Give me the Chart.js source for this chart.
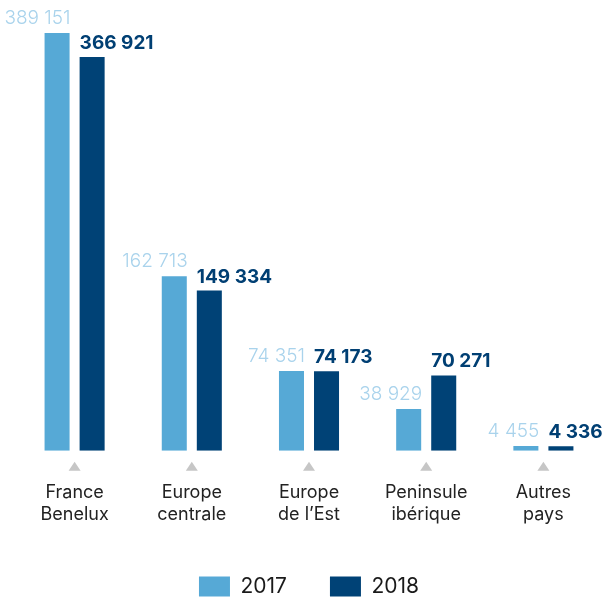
<!DOCTYPE html>
<html>
<head>
<meta charset="utf-8">
<script src="https://cdn.jsdelivr.net/npm/chart.js@4/dist/chart.umd.min.js"></script>
<style>
  html, body { margin: 0; padding: 0; background: #fff; }
  #wrap { width: 604px; height: 599px; }
</style>
</head>
<body>
<div id="wrap"><canvas id="chart"></canvas></div>
<script>
const categories = [["France", "Benelux"], ["Europe", "centrale"], ["Europe", "de l\u2019Est"], ["Peninsule", "ibérique"], ["Autres", "pays"]];
const values2017 = [389151, 162713, 74351, 38929, 4455];
const values2018 = [366921, 149334, 74173, 70271, 4336];
const seriesLabels = ["2017", "2018"];

const FONT = "Inter, 'Noto Sans', sans-serif";
const LEGEND_HEIGHT = 66;

function fmt(n) {
  return String(n).replace(/\B(?=(\d{3})+(?!\d))/g, " ");
}

// fixed legend height so items sit at the very bottom
const legendHeight = {
  id: "legendHeight",
  beforeInit(chart) {
    const origFit = chart.legend.fit;
    chart.legend.fit = function () {
      origFit.call(this);
      this.height = LEGEND_HEIGHT;
    };
  }
};

// value labels above bars + small triangles above category names
const decorations = {
  id: "decorations",
  afterDatasetsDraw(chart) {
    const ctx = chart.ctx;
    ctx.save();
    chart.data.datasets.forEach((ds, di) => {
      const meta = chart.getDatasetMeta(di);
      meta.data.forEach((bar, i) => {
        const left = bar.x - bar.width / 2;
        const right = bar.x + bar.width / 2;
        ctx.textBaseline = "alphabetic";
        if (di === 0) {
          ctx.font = "300 19px " + FONT;
          ctx.fillStyle = "#a9d3ec";
          ctx.textAlign = "right";
          ctx.fillText(fmt(ds.data[i]), right + 1, bar.y - 9);
        } else {
          ctx.font = "700 19px " + FONT;
          ctx.fillStyle = "#003f73";
          ctx.textAlign = "left";
          ctx.fillText(fmt(ds.data[i]), left, bar.y - 8);
        }
      });
    });
    const xs = chart.scales.x;
    const base = chart.chartArea.bottom;
    ctx.fillStyle = "#c6c6c6";
    categories.forEach((c, i) => {
      const cx = xs.getPixelForValue(i);
      ctx.beginPath();
      ctx.moveTo(cx - 6, base + 20);
      ctx.lineTo(cx + 6, base + 20);
      ctx.lineTo(cx, base + 11);
      ctx.closePath();
      ctx.fill();
    });
    ctx.restore();
  }
};

new Chart(document.getElementById("chart"), {
  type: "bar",
  data: {
    labels: categories,
    datasets: [
      { label: seriesLabels[0], data: values2017, backgroundColor: "#56a9d6" },
      { label: seriesLabels[1], data: values2018, backgroundColor: "#004276" }
    ]
  },
  options: {
    responsive: true,
    maintainAspectRatio: false,
    animation: false,
    datasets: { bar: { categoryPercentage: 0.598, barPercentage: 0.714 } },
    layout: { padding: { left: 16, right: 2, top: 0, bottom: 0 } },
    plugins: {
      legend: {
        position: "bottom",
        labels: {
          boxWidth: 31,
          boxHeight: 20,
          padding: 43,
          color: "#1a1a1a",
          font: { family: FONT, size: 21 }
        }
      },
      tooltip: { enabled: false }
    },
    scales: {
      x: {
        grid: { display: false },
        border: { display: false },
        afterFit(scale) {
          scale.height -= 15;
        },
        ticks: {
          color: "#222",
          padding: 23,
          maxRotation: 0,
          font: { family: FONT, size: 18, lineHeight: 1.2 }
        }
      },
      y: {
        display: false,
        min: 0,
        max: 420000
      }
    }
  },
  plugins: [legendHeight, decorations]
});
</script>
</body>
</html>
